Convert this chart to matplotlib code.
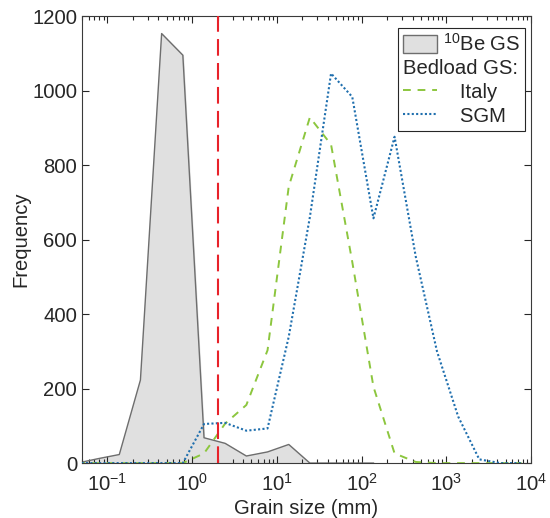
import numpy as np
import matplotlib.pyplot as plt
from matplotlib.patches import Patch
from matplotlib.lines import Line2D

# grain size bins (mm) shared by all series
grain_size = [0.044, 0.078, 0.138, 0.245, 0.436, 0.776, 1.38, 2.45, 4.36, 7.76,
              13.8, 24.5, 43.6, 77.6, 138, 245, 436, 776, 1380, 2450, 4360, 7760]

# 10Be grain size distribution (first 15 bins)
be_freq = [0, 12, 23, 223, 1153, 1095, 68, 53, 19, 30, 50, 0, 0, 0, 0]

# bedload grain size distributions
italy_freq = [0, 0, 0, 0, 0, 0, 26, 106, 156, 303, 742, 928, 855, 540, 205,
              26, 3, 0, 0, 0, 0, 0]
sgm_freq = [0, 0, 0, 0, 0, 0, 105, 108, 87, 93, 339, 660, 1046, 983, 657,
            876, 554, 300, 125, 10, 0, 0]

threshold = 2  # mm

plt.rcParams['font.family'] = ['Liberation Sans', 'DejaVu Sans']
plt.rcParams['mathtext.default'] = 'regular'
txt = '#262626'
fs = 14.6

fig = plt.figure(figsize=(5.5, 5.18), dpi=100)
ax = fig.add_axes([0.149, 0.106, 0.8165, 0.863])

x_be = grain_size[:len(be_freq)]
ax.fill_between(x_be, be_freq, color='#e0e0e0', zorder=1)
ax.plot(x_be, be_freq, color='#6e6e6e', lw=1, zorder=2)
ax.plot(grain_size, italy_freq, color='#8cc63e', lw=1.4, dashes=(4, 3.5), zorder=3)
ax.plot(grain_size, sgm_freq, color='#1f6fae', lw=1.5, dashes=(1, 1.1), zorder=3)
ax.axvline(threshold, color='#e8222a', lw=1.5, dashes=(8, 3.5), zorder=4)

ax.set_xscale('log')
ax.set_xlim(0.05, 1e4)
ax.set_ylim(0, 1200)
ax.set_yticks([0, 200, 400, 600, 800, 1000, 1200])
ax.set_xlabel('Grain size (mm)', fontsize=fs, color=txt, labelpad=3)
ax.set_ylabel('Frequency', fontsize=fs, color=txt, labelpad=1)
ax.tick_params(which='both', direction='in', top=True, right=True,
               labelsize=fs, colors=txt, width=0.8)
ax.tick_params(which='major', length=5)
ax.tick_params(which='minor', length=3)
ax.tick_params(axis='x', pad=7)
for s in ax.spines.values():
    s.set_color('#3a3a3a')
    s.set_linewidth(0.8)

handles = [Patch(facecolor='#e0e0e0', edgecolor='#6e6e6e', lw=1),
           Line2D([], [], color='none'),
           Line2D([], [], color='#8cc63e', lw=1.4, dashes=(4, 3.5)),
           Line2D([], [], color='#1f6fae', lw=1.5, dashes=(1, 1.1))]
labels = ['$^{10}$Be GS', 'Bedload GS:', '   Italy', '   SGM']
leg = ax.legend(handles, labels, loc='upper right', bbox_to_anchor=(0.987, 0.973),
                borderaxespad=0, fontsize=fs, fancybox=False, framealpha=1,
                edgecolor='#262626', handlelength=1.65, handleheight=1.0,
                handletextpad=0.3, labelspacing=0.2, borderpad=0.25)
leg.get_frame().set_linewidth(0.8)
for t in leg.get_texts():
    t.set_color(txt)
# "Bedload GS:" is a heading without a symbol
col = leg._legend_handle_box.get_children()[0]
col.get_children()[1].get_children()[0].set_visible(False)

fig.savefig('out.png', dpi=100)
